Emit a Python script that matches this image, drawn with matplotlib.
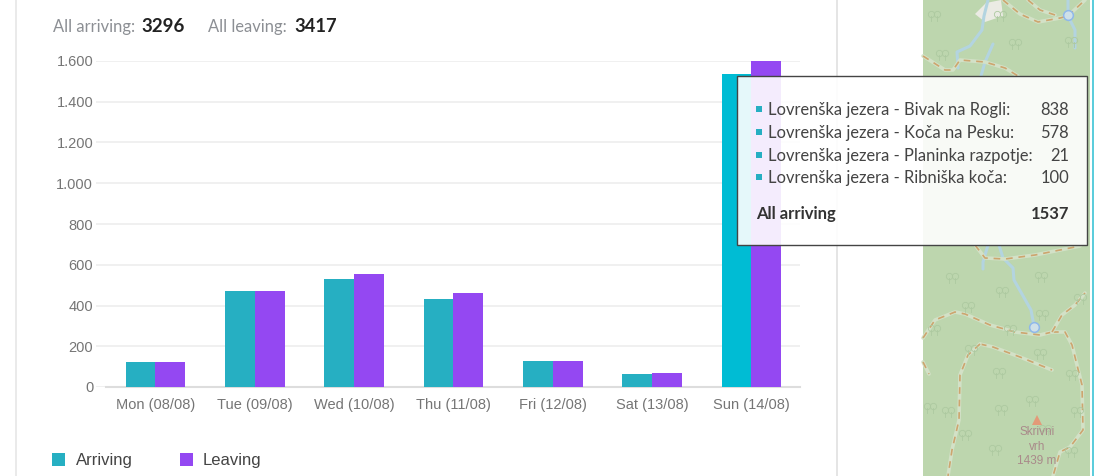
import matplotlib
matplotlib.use('Agg')
import matplotlib.pyplot as plt
from matplotlib.patches import Rectangle, Polygon

# chart data
days = ['Mon (08/08)', 'Tue (09/08)', 'Wed (10/08)', 'Thu (11/08)', 'Fri (12/08)', 'Sat (13/08)', 'Sun (14/08)']
arriving = [124, 470, 531, 433, 126, 62, 1537]
leaving = [121, 470, 557, 460, 127, 68, 1614]
y_ticks = [0, 200, 400, 600, 800, 1000, 1200, 1400, 1600]
y_labels = ['0', '200', '400', '600', '800', '1.000', '1.200', '1.400', '1.600']

tip_names = ['Lovrenška jezera - Bivak na Rogli:', 'Lovrenška jezera - Koča na Pesku:',
             'Lovrenška jezera - Planinka razpotje:', 'Lovrenška jezera - Ribniška koča:']
tip_values = [838, 578, 21, 100]

W, H = 1094, 476
TEAL = '#26afc2'
TEAL_HOVER = '#00bcd4'
PURPLE = '#9448f2'

fig = plt.figure(figsize=(W / 100, H / 100), dpi=100, facecolor='white')

# background layer in pixel coordinates (panel borders and the map)
bg = fig.add_axes([0, 0, 1, 1], zorder=0)
bg.set_xlim(0, W)
bg.set_ylim(H, 0)
bg.axis('off')

bg.plot([16, 16], [0, H], color='#e6e6e6', lw=1.2)
bg.plot([837, 837], [0, H], color='#e0e0e0', lw=1.2)
bg.plot([1093, 1093], [0, H], color='#3cc4d6', lw=1.2)
bg.add_patch(Rectangle((923, 0), 167, H, color='#bdd6ae', lw=0))
bg.add_patch(Polygon([(975, 14), (986, 3), (1001, 0), (1003, 16), (985, 22)], color='#ebebe4', lw=0))

# rivers
rivers = [
    [(988, 0), (984, 16), (982, 30), (970, 46), (957, 52), (958, 68)],
    [(993, 44), (985, 62), (981, 76)],
    [(1068, 0), (1068, 16), (1075, 30), (1075, 48)],
    [(999, 245), (1003, 258), (1013, 268), (1014, 280), (1031, 310), (1034, 326)],
    [(988, 245), (983, 262), (983, 269)],
]
for r in rivers:
    bg.plot(*zip(*r), color='#b3d4e0', lw=2.2, solid_capstyle='round')

# hiking paths
paths = [
    [(1003, 0), (1020, 14), (1038, 22), (1060, 18), (1068, 16)],
    [(1028, 0), (1040, 10), (1055, 15)],
    [(1068, 16), (1085, 0)],
    [(923, 56), (945, 70), (953, 70), (960, 60), (985, 62), (1005, 68), (1018, 76)],
    [(975, 245), (985, 258), (1005, 259), (1035, 255), (1080, 246)],
    [(923, 338), (935, 320), (955, 312), (965, 314), (990, 325), (1015, 332), (1040, 335), (1052, 332)],
    [(1052, 332), (1065, 332), (1072, 345), (1082, 385), (1083, 430), (1070, 447), (1060, 452), (1053, 476)],
    [(1052, 332), (1062, 315), (1075, 305), (1085, 293)],
    [(980, 344), (993, 347), (1020, 357), (1052, 370)],
    [(980, 344), (968, 355), (960, 375), (959, 420), (952, 450), (948, 476)],
    [(923, 362), (929, 374)],
]
for p in paths:
    bg.plot(*zip(*p), color='#d3e1c7', lw=2.6, solid_capstyle='round')
    bg.plot(*zip(*p), color='#cda56e', lw=1.2, dashes=(4, 3.5))

# springs
for cx, cy in [(1068, 15), (1034, 327)]:
    bg.plot(cx, cy, 'o', ms=7, mfc='#cfe0e8', mec='#8fb8ea', mew=1.1)

# tree symbols
trees = [(934, 14), (1015, 42), (1071, 40), (942, 53), (1000, 14), (1041, 275), (1002, 290), (968, 305), (1042, 313),
         (1080, 297), (1010, 328), (934, 328), (971, 348), (1040, 352), (999, 371), (1072, 373), (930, 406),
         (1032, 399), (1001, 408), (965, 433), (995, 448), (1071, 450), (1045, 428), (952, 276), (948, 410), (1077, 410)]
for tx, ty in trees:
    bg.plot([tx - 3, tx + 3], [ty, ty], 'o', ms=4.5, mfc='none', mec='#adc9a0', mew=0.6)
    bg.plot([tx - 3, tx - 3], [ty + 2, ty + 7], color='#adc9a0', lw=0.6)
    bg.plot([tx + 3, tx + 3], [ty + 2, ty + 7], color='#adc9a0', lw=0.6)

# peak label
bg.plot(1037, 420, '^', ms=7, color='#e39a78', mew=0)
for txt, ty in [('Skrivni', 432), ('vrh', 447), ('1439 m', 461)]:
    bg.text(1037, ty, txt, ha='center', va='center', fontsize=8.5, color='#a98a8a', family='Liberation Sans')

# totals above the chart
head_font = 'Lato'
bg.text(53, 27, 'All arriving:', fontsize=11.9, color='#8c8f94', family=head_font, va='center')
bg.text(141, 26.5, '3296', fontsize=13.5, color='#222222', family=head_font, weight='bold', va='center')
bg.text(208, 27, 'All leaving:', fontsize=11.9, color='#8c8f94', family=head_font, va='center')
bg.text(294, 26.5, '3417', fontsize=13.2, color='#222222', family=head_font, weight='bold', va='center')

# bar chart
ax = fig.add_axes([96 / W, (H - 387) / H, 704 / W, 326 / H], zorder=1)
ax.patch.set_alpha(0)
x = list(range(len(days)))
bar_w = 0.30
arr_colors = [TEAL] * 6 + [TEAL_HOVER]
ax.bar([i - bar_w / 2 for i in x], arriving, bar_w, color=arr_colors, zorder=3, label='Arriving')
ax.bar([i + bar_w / 2 for i in x], leaving, bar_w, color=PURPLE, zorder=3, label='Leaving')

ax.set_xlim(-0.599, 6.49)
ax.set_ylim(0, 1600)
ax.set_yticks(y_ticks)
ax.set_yticklabels(y_labels)
ax.set_xticks(x)
ax.set_xticklabels(days)
ax.tick_params(axis='both', length=0, labelsize=10.5, labelcolor='#757575', labelfontfamily='Liberation Sans')
ax.tick_params(axis='x', pad=8)
ax.tick_params(axis='y', pad=2)
ax.grid(axis='y', color='#ededed', lw=1.2, zorder=0)
for s in ax.spines.values():
    s.set_visible(False)
ax.plot([10 / 704, 1], [0, 0], transform=ax.transAxes, color='#dddddd', lw=1.5, zorder=2, clip_on=False)

# legend drawn by hand to sit at the same spot
bg.add_patch(Rectangle((52, 453), 13, 13, color=TEAL, lw=0))
bg.text(76, 460, 'Arriving', fontsize=12, color='#444444', family='Liberation Sans', va='center')
bg.add_patch(Rectangle((180, 453), 13, 13, color=PURPLE, lw=0))
bg.text(203, 460, 'Leaving', fontsize=12, color='#444444', family='Liberation Sans', va='center')

# tooltip on top of everything
tip = fig.add_axes([0, 0, 1, 1], zorder=2)
tip.patch.set_alpha(0)
tip.set_xlim(0, W)
tip.set_ylim(H, 0)
tip.axis('off')
tip.add_patch(Rectangle((737, 76), 350, 169, facecolor=(1, 1, 1, 0.9), edgecolor='#444444', lw=1.0))
for i, (name, val) in enumerate(zip(tip_names, tip_values)):
    ty = 110 + i * 22.8
    tip.add_patch(Rectangle((756, ty - 4), 6, 6, color=TEAL, lw=0))
    tip.text(768, ty, name, fontsize=11.9, color='#444444', family=head_font, va='center')
    tip.text(1069, ty, str(val), fontsize=11.9, color='#444444', family=head_font, va='center', ha='right')
tip.text(756, 214, 'All arriving', fontsize=12, color='#333333', family=head_font, weight='bold', va='center')
tip.text(1069, 214, str(arriving[-1]), fontsize=12, color='#333333', family=head_font, weight='bold', va='center', ha='right')

fig.savefig('out.png', dpi=100)
